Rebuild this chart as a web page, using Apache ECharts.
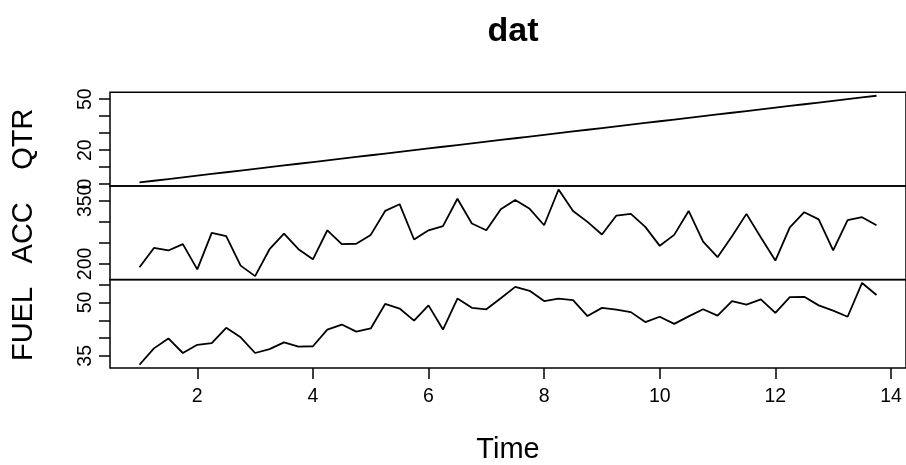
<!DOCTYPE html>
<html>
<head>
<meta charset="utf-8">
<script src="https://cdn.jsdelivr.net/npm/echarts@6/dist/echarts.min.js"></script>
<style>
  html, body { margin: 0; padding: 0; background: #fff; }
  #chart { width: 906px; height: 465px; }
</style>
</head>
<body>
<div id="chart"></div>
<script>
// quarterly series, start 1, frequency 4
var tsStart = 1;
var tsFreq = 4;

var qtr = [1, 2, 3, 4, 5, 6, 7, 8, 9, 10, 11, 12, 13, 14, 15, 16, 17, 18, 19, 20,
  21, 22, 23, 24, 25, 26, 27, 28, 29, 30, 31, 32, 33, 34, 35, 36, 37, 38, 39, 40,
  41, 42, 43, 44, 45, 46, 47, 48, 49, 50, 51, 52];
var acc = [192, 238, 232, 247, 187, 274, 266, 196, 171, 235,
  272, 235, 211, 280, 247, 248, 269, 326, 342, 258,
  280, 290, 355, 296, 280, 330, 352, 331, 292, 377,
  326, 300, 270, 315, 319, 288, 243, 269, 326, 253,
  216, 266, 319, 263, 208, 287, 323, 306, 232, 304,
  311, 292];
var fuel = [32.5, 37.1, 39.9, 35.8, 38.1, 38.6, 42.9, 40.2, 35.8, 36.9,
  38.8, 37.6, 37.7, 42.4, 43.8, 41.8, 42.7, 49.6, 48.3, 44.9,
  49.2, 42.4, 51.1, 48.5, 48.1, 51.2, 54.4, 53.3, 50.4, 51.1,
  50.7, 46.2, 48.5, 48.0, 47.3, 44.5, 46.0, 44.0, 46.1, 48.1,
  46.3, 50.4, 49.4, 50.9, 47.1, 51.5, 51.6, 49.2, 47.7, 46.0,
  55.5, 52.1];

var timeTicks = [2, 4, 6, 8, 10, 12, 14];
var qtrTicks = [0, 10, 20, 30, 40, 50];
var qtrLabels = [0, 20, 50];
var accTicks = [200, 250, 300, 350];
var accLabels = [200, 350];
var fuelTicks = [35, 40, 45, 50, 55];
var fuelLabels = [35, 50];

var FONT = '"Liberation Sans", Arial, sans-serif';

function pts(vals) {
    return vals.map(function (v, i) { return [tsStart + i / tsFreq, v]; });
}
// R style range: data range plus 4% each side
function lims(vals) {
    var lo = Math.min.apply(null, vals), hi = Math.max.apply(null, vals);
    var pad = (hi - lo) * 0.04;
    return [lo - pad, hi + pad];
}
var tLim = lims(qtr.map(function (v, i) { return tsStart + i / tsFreq; }));

var panels = [
    {name: 'QTR', data: qtr, ticks: qtrTicks, labels: qtrLabels, top: 92.3},
    {name: 'ACC', data: acc, ticks: accTicks, labels: accLabels, top: 186},
    {name: 'FUEL', data: fuel, ticks: fuelTicks, labels: fuelLabels, top: 279.7}
];
var panelH = 93.6;

var grid = [], xAxis = [], yAxis = [], series = [];
panels.forEach(function (p, k) {
    var last = k === panels.length - 1;
    var yl = lims(p.data);
    grid.push({
        left: 110, right: -2, top: p.top, height: panelH,
        show: true, borderColor: '#000', borderWidth: 1.5, backgroundColor: 'transparent'
    });
    xAxis.push({
        type: 'value', gridIndex: k, min: tLim[0], max: tLim[1],
        splitLine: {show: false},
        axisLine: {show: false},
        axisTick: {show: last, length: 11, inside: false, customValues: timeTicks,
            lineStyle: {color: '#000', width: 1.5}},
        axisLabel: {show: last, customValues: timeTicks, margin: 19,
            color: '#000', fontSize: 19.5, fontFamily: FONT},
        name: last ? 'Time' : '', nameLocation: 'middle', nameGap: 67,
        nameTextStyle: {color: '#000', fontSize: 29, fontFamily: FONT}
    });
    yAxis.push({
        type: 'value', gridIndex: k, min: yl[0], max: yl[1],
        splitLine: {show: false},
        axisLine: {show: false},
        axisTick: {show: true, length: 11, customValues: p.ticks,
            lineStyle: {color: '#000', width: 1.5}},
        axisLabel: {customValues: p.labels, rotate: 90, margin: 14,
            color: '#000', fontSize: 19.5, fontFamily: FONT},
        name: p.name, nameLocation: 'middle', nameRotate: 90, nameGap: 72,
        nameTextStyle: {color: '#000', fontSize: 29, fontFamily: FONT}
    });
    series.push({
        type: 'line', xAxisIndex: k, yAxisIndex: k,
        data: pts(p.data), showSymbol: false,
        lineStyle: {color: '#000', width: 1.8}
    });
});

var myChart = echarts.init(document.getElementById('chart'));
myChart.setOption({
    animation: false,
    backgroundColor: '#fff',
    title: {
        text: 'dat', left: 508, top: 10, textAlign: 'center',
        textStyle: {color: '#000', fontSize: 34, fontWeight: 'bold', fontFamily: FONT}
    },
    grid: grid,
    xAxis: xAxis,
    yAxis: yAxis,
    series: series
});
</script>
</body>
</html>
